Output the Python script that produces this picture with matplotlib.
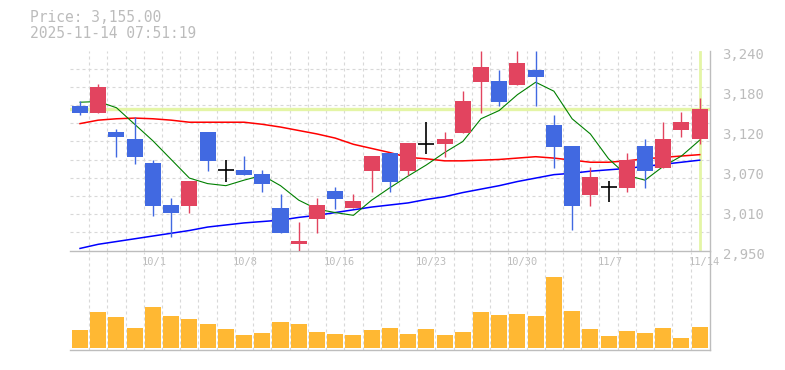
import matplotlib
matplotlib.use("Agg")
import matplotlib.pyplot as plt
from matplotlib.transforms import ScaledTranslation
import numpy as np

# ---------------- data ----------------
dates = ["9/25", "9/26", "9/29", "9/30", "10/1", "10/2", "10/3", "10/6", "10/7",
         "10/8", "10/9", "10/10", "10/14", "10/15", "10/16", "10/17", "10/20",
         "10/21", "10/22", "10/23", "10/24", "10/27", "10/28", "10/29", "10/30",
         "10/31", "11/4", "11/5", "11/6", "11/7", "11/10", "11/11", "11/12",
         "11/13", "11/14"]
opens = [3160, 3150, 3122, 3112, 3077, 3016, 3015, 3122, 3067, 3067, 3061, 3012,
         2960, 2996, 3036, 3011, 3066, 3091, 3066, 3105, 3105, 3121, 3195, 3196,
         3190, 3212, 3132, 3102, 3031, 3042, 3041, 3102, 3070, 3125, 3111]
closes = [3149, 3187, 3115, 3086, 3015, 3005, 3051, 3080, 3067, 3060, 3046, 2976,
          2964, 3016, 3025, 3022, 3087, 3050, 3106, 3105, 3112, 3167, 3216, 3166,
          3222, 3201, 3100, 3015, 3057, 3042, 3081, 3066, 3112, 3136, 3155]
highs = [3167, 3191, 3126, 3143, 3081, 3026, 3051, 3122, 3081, 3087, 3067, 3032,
         2991, 3026, 3042, 3032, 3087, 3091, 3106, 3136, 3122, 3181, 3240, 3212,
         3240, 3240, 3146, 3102, 3071, 3051, 3091, 3112, 3136, 3151, 3171]
lows = [3146, 3150, 3086, 3075, 3000, 2970, 3005, 3066, 3050, 3060, 3035, 2976,
        2950, 2976, 3010, 3011, 3035, 3035, 3059, 3090, 3086, 3121, 3150, 3160,
        3190, 3160, 3070, 2980, 3015, 3020, 3035, 3041, 3070, 3115, 3105]
volumes = [18, 36, 31, 20, 41, 32, 29, 24, 19, 13, 15, 26, 24, 16, 14, 13, 18,
           20, 14, 19, 13, 16, 36, 33, 34, 32, 71, 37, 19, 12, 17, 15, 20, 10, 21]  # thousand shares
ma5 = [3165, 3166, 3157, 3133, 3109, 3082, 3055, 3047, 3044, 3052, 3059, 3044,
       3023, 3010, 3005, 3001, 3023, 3041, 3058, 3074, 3092, 3108, 3141, 3153,
       3176, 3194, 3181, 3141, 3119, 3083, 3059, 3052, 3072, 3087, 3110]
ma25 = [3134, 3139, 3141, 3142, 3141, 3139, 3136, 3136, 3136, 3136, 3133, 3129,
        3124, 3119, 3113, 3104, 3098, 3092, 3085, 3083, 3080, 3080, 3081, 3082,
        3084, 3086, 3084, 3081, 3078, 3078, 3080, 3083, 3085, 3087, 3089]
ma75 = [2953, 2959, 2963, 2967, 2971, 2975, 2979, 2984, 2987, 2990, 2992, 2994,
        2998, 3001, 3005, 3009, 3013, 3016, 3019, 3024, 3028, 3034, 3039, 3044,
        3050, 3055, 3060, 3062, 3065, 3067, 3069, 3072, 3075, 3078, 3081]
label_idx = [4, 9, 14, 19, 24, 29, 34]
price_ticks = [3240, 3180, 3120, 3070, 3010, 2950]
last_price = 3155.00
timestamp = "2025-11-14 07:51:19"

# ---------------- style ----------------
UP = "#e2445f"
DOWN = "#4169e1"
VOLC = "#ffb833"
GRID = "#d8d8d8"
AXC = "#bdbdbd"
TXT = "#bcbcbc"
HL = "#e4f5a6"
MONO = "DejaVu Sans Mono"

W, H, DPI = 785, 370, 100
fig = plt.figure(figsize=(W / DPI, H / DPI), dpi=DPI)
fig.patch.set_facecolor("white")

n = len(dates)
x = np.arange(n)
ymin, ymax = min(lows), max(highs)
xlim = (-0.55, n - 1 + 0.565)

def px_axes(left, top, right, bottom):
    return fig.add_axes([left / W, 1 - bottom / H, (right - left) / W, (bottom - top) / H])

ax = px_axes(70, 50.5, 710, 250.5)
axv = px_axes(70, 252, 710, 350)

dash = (0, (2.7, 2.7))
for a in (ax, axv):
    a.set_facecolor("none")
    for s in ("left", "top"):
        a.spines[s].set_visible(False)
    for s in ("right", "bottom"):
        a.spines[s].set_color(AXC)
        a.spines[s].set_linewidth(1.0)
    a.set_xlim(*xlim)
    a.set_xticks(x[:-1] + 0.5, minor=True)
    a.tick_params(which="both", length=0)
    a.grid(True, which="minor", axis="x", color=GRID, linestyle=dash, linewidth=0.8)
    a.set_axisbelow(True)

# price panel
ax.set_ylim(ymin, ymax)
ax.set_yticks(np.linspace(ymin, ymax, 12), minor=True)
ax.grid(True, which="minor", axis="y", color=GRID, linestyle=dash, linewidth=0.8)
ax.grid(False, which="major")
ax.yaxis.tick_right()
ax.set_yticks(np.linspace(ymin, ymax, len(price_ticks))[::-1],
              [f"{v:,}" for v in price_ticks])
ax.tick_params(axis="y", which="major", pad=9, labelcolor=TXT, labelsize=10)
for lab in ax.get_yticklabels():
    lab.set_fontfamily(MONO)
    lab.set_transform(lab.get_transform() + ScaledTranslation(0, -3 / DPI, fig.dpi_scale_trans))

ax.set_xticks(label_idx, [dates[i] for i in label_idx])
ax.tick_params(axis="x", which="major", pad=5, labelcolor=TXT, labelsize=7.5)
for lab in ax.get_xticklabels():
    lab.set_fontfamily(MONO)
    lab.set_horizontalalignment("left")
    lab.set_transform(lab.get_transform() + ScaledTranslation(-11 / DPI, 0, fig.dpi_scale_trans))

# last price highlight lines
ax.axhline(last_price, color=HL, linewidth=2.4, zorder=1)
ax.axvline(x[-1], ymin=0.01, ymax=0.995, color=HL, linewidth=2.0, zorder=1)

# moving averages
ax.plot(x, ma75, color="#0000ff", linewidth=1.1, zorder=2)
ax.plot(x, ma25, color="#ff0000", linewidth=1.1, zorder=2)
ax.plot(x, ma5, color="#008000", linewidth=0.8, zorder=2)

# candles
bw = 0.88
for i in range(n):
    o, c, h, l = opens[i], closes[i], highs[i], lows[i]
    if o == c:
        ax.vlines(i, l, h, color="black", linewidth=1.2, zorder=3)
        ax.hlines(c, i - bw / 2, i + bw / 2, color="black", linewidth=1.2, zorder=3)
        continue
    col = UP if c > o else DOWN
    ax.vlines(i, l, h, color=col, linewidth=1.0, zorder=3)
    ax.bar(i, abs(c - o), bottom=min(o, c), width=bw, color=col, linewidth=0, zorder=4)

# volume panel
axv.set_ylim(-2, 96)
axv.set_yticks([])
axv.set_xticks([])
axv.bar(x, volumes, width=bw, color=VOLC, linewidth=0, zorder=3)

# header
fig.text(30 / W, 1 - 18 / H, f"Price: {last_price:,.2f}", family=MONO, fontsize=10.5,
         color=TXT, va="center", ha="left")
fig.text(30 / W, 1 - 33.5 / H, timestamp, family=MONO, fontsize=10.5,
         color=TXT, va="center", ha="left")

fig.savefig("out.png", dpi=DPI)
